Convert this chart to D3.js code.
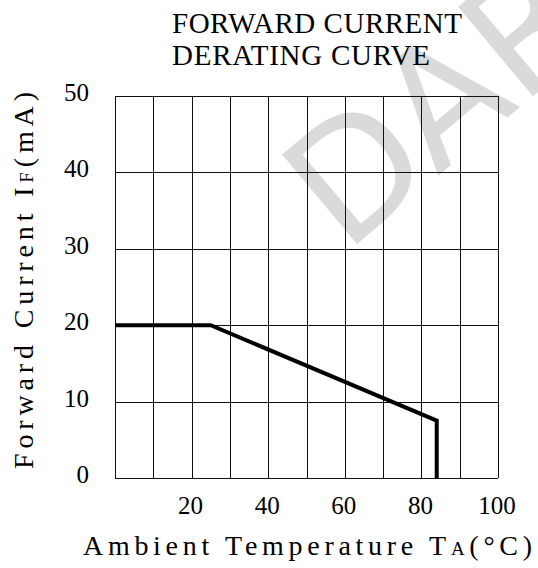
<!DOCTYPE html>
<html>
<head>
<meta charset="utf-8">
<script src="https://cdn.jsdelivr.net/npm/d3@7"></script>
<style>
  body { margin: 0; background: #fff; }
</style>
</head>
<body>
<div id="chart"></div>
<script>
  // derating curve: ambient temperature (°C) vs max forward current (mA)
  const tempC = [0, 25, 84, 84];
  const currentMA = [20, 20, 7.5, 0];
  const xTicks = [20, 40, 60, 80, 100];
  const yTicks = [0, 10, 20, 30, 40, 50];
  const xGrid = d3.range(0, 101, 10);
  const yGrid = d3.range(0, 51, 10);
  const titleLines = ['FORWARD CURRENT', 'DERATING CURVE'];

  const W = 538, H = 568;
  const margin = { top: 96, right: 40, bottom: 90, left: 115 };
  const serif = 'Liberation Serif';

  const svg = d3.select('#chart')
    .append('svg')
    .attr('width', W)
    .attr('height', H);

  // faint watermark behind everything
  svg.append('text')
    .attr('transform', 'translate(345,254) rotate(-40)')
    .style('font-family', 'DejaVu Sans')
    .style('font-size', '160px')
    .style('fill', '#dadada')
    .text('DAR');

  const x = d3.scaleLinear().domain([0, 100]).range([margin.left, W - margin.right]);
  const y = d3.scaleLinear().domain([0, 50]).range([H - margin.bottom, margin.top]);

  const grid = svg.append('g')
    .attr('stroke', '#111')
    .attr('stroke-width', 1)
    .attr('shape-rendering', 'crispEdges');

  grid.selectAll('.vx')
    .data(xGrid)
    .enter()
    .append('line')
    .attr('x1', d => Math.round(x(d)) + 0.5)
    .attr('x2', d => Math.round(x(d)) + 0.5)
    .attr('y1', y(0))
    .attr('y2', y(50));

  grid.selectAll('.hy')
    .data(yGrid)
    .enter()
    .append('line')
    .attr('x1', x(0))
    .attr('x2', x(100))
    .attr('y1', d => Math.round(y(d)) + 0.5)
    .attr('y2', d => Math.round(y(d)) + 0.5);

  const line = d3.line()
    .x((d, i) => x(tempC[i]))
    .y(d => y(d));

  svg.append('path')
    .datum(currentMA)
    .attr('d', line)
    .attr('fill', 'none')
    .attr('stroke', '#000')
    .attr('stroke-width', 4)
    .attr('stroke-linejoin', 'miter');

  // tick labels
  svg.selectAll('.xt')
    .data(xTicks)
    .enter()
    .append('text')
    .attr('x', d => x(d) - 1)
    .attr('y', 514)
    .attr('text-anchor', 'middle')
    .style('font-family', serif)
    .style('font-size', '25px')
    .text(d => d);

  svg.selectAll('.yt')
    .data(yTicks)
    .enter()
    .append('text')
    .attr('x', 89)
    .attr('y', d => y(d) + 5)
    .attr('text-anchor', 'end')
    .style('font-family', serif)
    .style('font-size', '25px')
    .text(d => d);

  // title
  svg.selectAll('.title')
    .data(titleLines)
    .enter()
    .append('text')
    .attr('x', 172)
    .attr('y', (d, i) => 33 + i * 31.5)
    .attr('textLength', (d, i) => i === 0 ? 290 : 258)
    .attr('lengthAdjust', 'spacing')
    .style('font-family', serif)
    .style('font-size', '29px')
    .text(d => d);

  // x axis label
  const xl = svg.append('text')
    .attr('x', 83)
    .attr('y', 555)
    .attr('textLength', 449)
    .attr('lengthAdjust', 'spacing')
    .style('font-family', serif)
    .style('font-size', '28px');
  xl.append('tspan').text('Ambient Temperature T');
  xl.append('tspan').style('font-size', '19px').text('A');
  xl.append('tspan').text('(°C)');

  // y axis label
  const yl = svg.append('text')
    .attr('transform', 'translate(33,469) rotate(-90)')
    .attr('textLength', 377)
    .attr('lengthAdjust', 'spacing')
    .style('font-family', serif)
    .style('font-size', '28px');
  yl.append('tspan').text('Forward Current I');
  yl.append('tspan').style('font-size', '19px').text('F');
  yl.append('tspan').text('(mA)');
</script>
</body>
</html>
